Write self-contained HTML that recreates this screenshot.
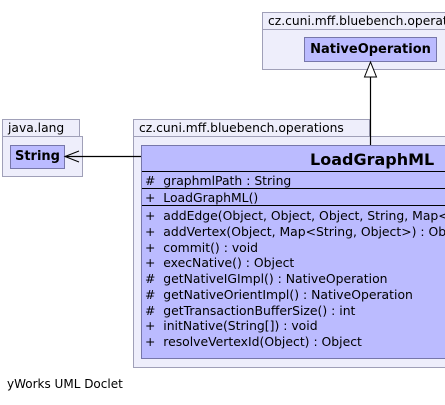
<!DOCTYPE html><html><head><style>
body{margin:0;width:445px;height:405px;background:#fff;position:relative;overflow:hidden;font-family:"DejaVu Sans","Liberation Sans",sans-serif;font-size:11px;color:#000}
div{position:absolute;box-sizing:border-box}
.pk{background:#eeeefb;border:1px solid #a0a0b8}
.tab{padding-left:5px;line-height:16px;font-size:12.3px;white-space:nowrap;overflow:hidden}
.cl{background:#bbbbff;border:1px solid #7777aa}
.b{font-weight:bold;text-align:center}
.ln{position:absolute;left:0;right:0;height:1px;background:#000}
.t{position:absolute;left:3px;white-space:nowrap;line-height:17px;font-size:12.4px}
</style></head><body>
<div class="pk tab" style="left:262px;top:12px;width:190px;height:18px">cz.cuni.mff.bluebench.operations</div>
<div class="pk" style="left:262px;top:29px;width:190px;height:41px"></div>
<div class="cl b" style="left:304px;top:37px;width:133px;height:25px;line-height:23px;font-size:13px">NativeOperation</div>
<div class="pk tab" style="left:2px;top:119px;width:78px;height:18px">java.lang</div>
<div class="pk" style="left:2px;top:136px;width:81px;height:41px"></div>
<div class="cl b" style="left:10px;top:145px;width:55px;height:24px;line-height:22px;font-size:13px">String</div>
<div class="pk tab" style="left:133px;top:119px;width:237px;height:18px">cz.cuni.mff.bluebench.operations</div>
<div class="pk" style="left:133px;top:136px;width:320px;height:232px"></div>
<div class="cl" style="left:141px;top:145px;width:310px;height:214px;overflow:hidden">
<div style="left:168px;top:2px;font-size:16px;font-weight:bold;line-height:24px;white-space:nowrap">LoadGraphML</div>
<div class="ln" style="top:25px"></div>
<div class="t" style="top:26px">#&nbsp; graphmlPath : String</div>
<div class="ln" style="top:42px"></div>
<div class="t" style="top:43px">+&nbsp; LoadGraphML()</div>
<div class="ln" style="top:59px"></div>
<div class="t" style="top:62px;line-height:15.75px">+&nbsp; addEdge(Object, Object, Object, String, Map&lt;String, Object&gt;)<br>+&nbsp; addVertex(Object, Map&lt;String, Object&gt;) : Object<br>+&nbsp; commit() : void<br>+&nbsp; execNative() : Object<br>#&nbsp; getNativeIGImpl() : NativeOperation<br>#&nbsp; getNativeOrientImpl() : NativeOperation<br>#&nbsp; getTransactionBufferSize() : int<br>+&nbsp; initNative(String[]) : void<br>+&nbsp; resolveVertexId(Object) : Object</div>
</div>
<svg width="445" height="405" style="position:absolute;left:0;top:0">
<line x1="370.5" y1="145" x2="370.5" y2="77" stroke="#000" stroke-width="1.2"/>
<polygon points="370.5,62 364.5,77 376.5,77" fill="#fff" stroke="#000"/>
<line x1="141" y1="156.5" x2="65" y2="156.5" stroke="#000" stroke-width="1.2"/>
<polyline points="79,151 65,156.5 79,162" fill="none" stroke="#000"/>
</svg>
<div style="left:7px;top:377px;font-size:12px;white-space:nowrap">yWorks UML Doclet</div>
</body></html>
